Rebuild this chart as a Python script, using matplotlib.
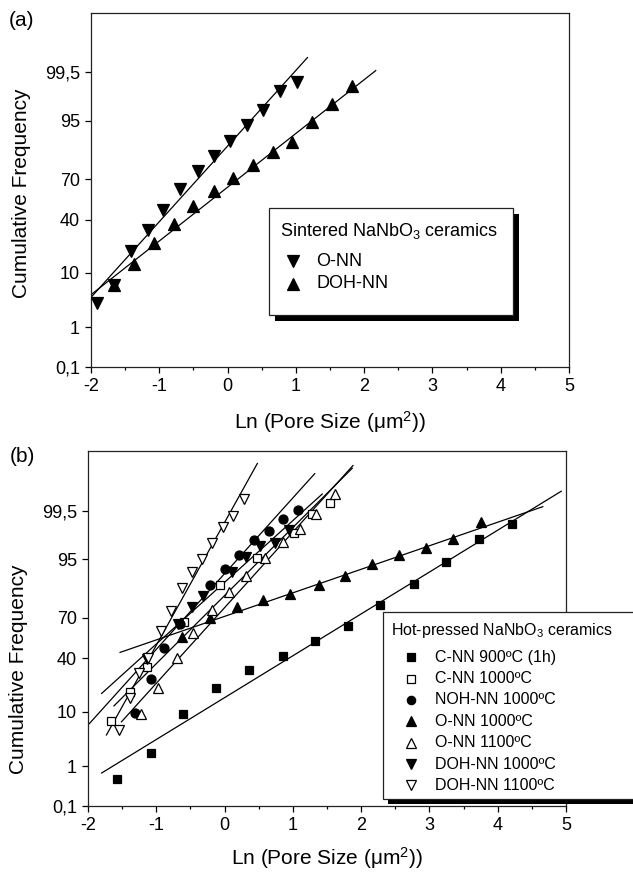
import numpy as np
import matplotlib
matplotlib.use("Agg")
import matplotlib.pyplot as plt
from matplotlib.patches import Rectangle
from matplotlib.lines import Line2D
from statistics import NormalDist

plt.rcParams['font.family'] = ['Liberation Sans', 'DejaVu Sans']
plt.rcParams['mathtext.fontset'] = 'custom'
plt.rcParams['mathtext.rm'] = 'Liberation Sans'
plt.rcParams['mathtext.default'] = 'regular'
plt.rcParams['axes.unicode_minus'] = False

# ---- data: x = ln(pore size), y = cumulative frequency (%) ----
# panel (a): sintered
a_onn_x = [-1.91, -1.66, -1.41, -1.17, -0.94, -0.69, -0.44, -0.20, 0.04, 0.28, 0.52, 0.77, 1.01]
a_onn_y = [3.1, 6.6, 19.5, 32.7, 46.9, 63.3, 74.9, 83.3, 89.5, 94.1, 96.8, 98.65, 99.16]
a_doh_x = [-1.66, -1.37, -1.08, -0.79, -0.50, -0.20, 0.08, 0.37, 0.66, 0.94, 1.24, 1.53, 1.82]
a_doh_y = [6.6, 13.5, 24.2, 36.9, 50.2, 61.3, 70.7, 78.5, 85.0, 89.3, 94.7, 97.5, 98.95]

# panel (b): hot-pressed
cnn900_x = [-1.57, -1.08, -0.61, -0.12, 0.36, 0.85, 1.32, 1.81, 2.28, 2.77, 3.25, 3.73, 4.21]
cnn900_y = [0.5, 1.9, 9.2, 20.4, 31.6, 41.5, 53.1, 64.3, 77.8, 87.9, 94.4, 97.9, 99.0]
cnn1000_x = [-1.66, -1.39, -1.14, -0.60, -0.06, 0.47, 1.01, 1.28, 1.55]
cnn1000_y = [7.2, 18.4, 33.7, 67.2, 87.5, 95.2, 98.4, 99.39, 99.68]
noh1000_x = [-1.31, -1.08, -0.88, -0.66, -0.22, 0.00, 0.21, 0.43, 0.65, 0.86, 1.08]
noh1000_y = [9.6, 25.6, 47.5, 65.3, 87.5, 92.7, 95.8, 97.8, 98.56, 99.2, 99.53]
onn1000_x = [-0.62, -0.22, 0.18, 0.57, 0.96, 1.38, 1.76, 2.16, 2.56, 2.95, 3.34, 3.75]
onn1000_y = [56.2, 69.9, 76.5, 80.4, 83.7, 87.4, 90.7, 94.0, 95.8, 96.8, 97.9, 99.07]
onn1100_x = [-1.23, -0.98, -0.70, -0.46, -0.18, 0.06, 0.32, 0.59, 0.86, 1.10, 1.34, 1.61]
onn1100_y = [9.4, 20.2, 40.2, 58.7, 74.8, 84.6, 90.7, 95.2, 97.6, 98.7, 99.39, 99.81]
doh1000_x = [-1.14, -0.68, -0.48, -0.31, 0.11, 0.32, 0.52, 0.74, 0.95]
doh1000_y = [39.0, 65.3, 76.8, 82.6, 92.0, 95.5, 97.1, 97.5, 98.6]
doh1100_x = [-1.55, -1.39, -1.26, -1.12, -0.93, -0.78, -0.62, -0.48, -0.33, -0.18, -0.02, 0.13, 0.29]
doh1100_y = [5.1, 15.2, 29.2, 40.2, 60.7, 74.4, 86.4, 92.0, 95.1, 97.5, 98.8, 99.34, 99.75]

# fitted lines: (x start, x end, freq start %, freq end %)
fit_a_onn = (-2.0, 1.17, 4.0, 99.79)
fit_a_doh = (-2.0, 2.17, 4.46, 99.55)
fit_cnn900 = (-1.80, 4.93, 0.70, 99.84)
fit_cnn1000 = (-1.62, 1.87, 12.1, 99.965)
fit_noh1000 = (-1.98, 1.32, 6.56, 99.949)
fit_onn1000 = (-1.53, 4.66, 44.3, 99.6)
fit_onn1100 = (-1.51, 1.88, 7.0, 99.971)
fit_doh1000 = (-1.80, 1.43, 17.6, 99.81)
fit_doh1100 = (-1.73, 0.48, 4.2, 99.975)

ytick_vals = [0.1, 1, 10, 40, 70, 95, 99.5]
ytick_labels = ['0,1', '1', '10', '40', '70', '95', '99,5']

nd = NormalDist()


def probit(pct):
    return np.array([nd.inv_cdf(v / 100.0) for v in np.atleast_1d(pct)])


W, H = 633, 873
fig = plt.figure(figsize=(W / 100, H / 100), dpi=100)


def px_axes(l, t, r, b):
    return fig.add_axes([l / W, 1 - b / H, (r - l) / W, (b - t) / H])


def setup(ax, ylab_pos, xpad):
    ax.set_xlim(-2, 5)
    ax.set_ylim(probit(0.1)[0], 3.72)
    ax.set_xticks(range(-2, 6))
    ax.set_xticks(np.arange(-1.5, 5, 1.0), minor=True)
    ax.set_yticks(probit(ytick_vals))
    ax.set_yticklabels(ytick_labels)
    ax.tick_params(axis='both', which='major', direction='out', length=4.5,
                   width=0.9, labelsize=13, top=False, right=False)
    ax.tick_params(axis='x', which='minor', direction='out', length=2.5, width=0.9)
    ax.tick_params(axis='y', which='minor', left=False)
    for s in ax.spines.values():
        s.set_linewidth(0.9)
        s.set_color('#222222')
    ax.set_xlabel('Ln (Pore Size (μm$^{2}$))', fontsize=15, labelpad=xpad)
    ax.set_ylabel('Cumulative Frequency', fontsize=15)
    ax.yaxis.set_label_coords(-0.125, ylab_pos)


def fit_line(ax, fit):
    x0, x1, y0, y1 = fit
    ax.plot([x0, x1], probit([y0, y1]), color='black', lw=0.9, zorder=2)


def pts(ax, x, y, marker, filled, ms):
    ax.plot(x, probit(y), ls='none', marker=marker, ms=ms,
            mfc='black' if filled else 'white', mec='black', mew=0.9, zorder=3)


def legend_box(l, t, r, b, shadow=6):
    fig.add_artist(Rectangle(((l + shadow) / W, 1 - (b + shadow) / H),
                             (r - l) / W, (b - t) / H, transform=fig.transFigure,
                             facecolor='black', edgecolor='none', zorder=5))
    fig.add_artist(Rectangle((l / W, 1 - b / H), (r - l) / W, (b - t) / H,
                             transform=fig.transFigure, facecolor='white',
                             edgecolor='#222222', lw=0.9, zorder=6))


def legend_item(x, y, marker, filled, ms, text, tx, fs):
    fig.add_artist(Line2D([x / W], [1 - y / H], marker=marker, ms=ms, ls='none',
                          mfc='black' if filled else 'white', mec='black', mew=0.9,
                          transform=fig.transFigure, zorder=7))
    fig.text(tx / W, 1 - y / H, text, fontsize=fs, va='center', ha='left', zorder=8)


# ---------- panel (a) ----------
ax1 = px_axes(91, 13, 569, 367)
setup(ax1, 0.49, 10)
fit_line(ax1, fit_a_onn)
fit_line(ax1, fit_a_doh)
pts(ax1, a_onn_x, a_onn_y, 'v', True, 8.5)
pts(ax1, a_doh_x, a_doh_y, '^', True, 8.5)
fig.text(22 / W, 1 - 20 / H, '(a)', fontsize=15, ha='center', va='center')

legend_box(269, 208, 513, 315, shadow=6)
fig.text(280 / W, 1 - 231 / H, 'Sintered NaNbO$_3$ ceramics', fontsize=13,
         va='center', ha='left', zorder=8)
legend_item(293, 261, 'v', True, 8.5, 'O-NN', 316, 13)
legend_item(293, 284, '^', True, 8.5, 'DOH-NN', 316, 13)

# ---------- panel (b) ----------
ax2 = px_axes(88, 451, 566, 806)
setup(ax2, 0.386, 8)
for f in [fit_cnn900, fit_cnn1000, fit_noh1000, fit_onn1000,
          fit_onn1100, fit_doh1000, fit_doh1100]:
    fit_line(ax2, f)
pts(ax2, cnn900_x, cnn900_y, 's', True, 6)
pts(ax2, cnn1000_x, cnn1000_y, 's', False, 6)
pts(ax2, noh1000_x, noh1000_y, 'o', True, 6.5)
pts(ax2, onn1000_x, onn1000_y, '^', True, 7.5)
pts(ax2, onn1100_x, onn1100_y, '^', False, 7.5)
pts(ax2, doh1000_x, doh1000_y, 'v', True, 7.5)
pts(ax2, doh1100_x, doh1100_y, 'v', False, 7.5)
fig.text(22 / W, 1 - 456 / H, '(b)', fontsize=15, ha='center', va='center')

legend_box(383, 612, 645, 799, shadow=5)
fig.text(391 / W, 1 - 630 / H, 'Hot-pressed NaNbO$_3$ ceramics', fontsize=11.5,
         va='center', ha='left', zorder=8)
leg_b = [('s', True, 5.5, 'C-NN 900ºC (1h)'),
         ('s', False, 5.5, 'C-NN 1000ºC'),
         ('o', True, 6, 'NOH-NN 1000ºC'),
         ('^', True, 7, 'O-NN 1000ºC'),
         ('^', False, 7, 'O-NN 1100ºC'),
         ('v', True, 7, 'DOH-NN 1000ºC'),
         ('v', False, 7, 'DOH-NN 1100ºC')]
for i, (m, fl, ms, lab) in enumerate(leg_b):
    legend_item(411, 657.3 + 21.35 * i, m, fl, ms, lab, 435, 11.5)

fig.savefig('out.png', dpi=100)
